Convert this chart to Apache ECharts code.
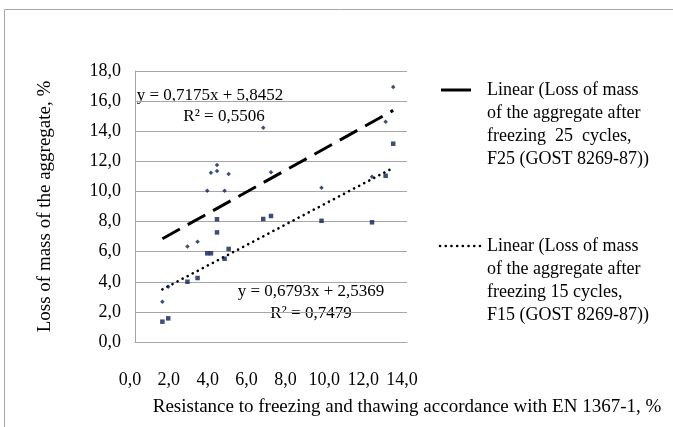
<!DOCTYPE html>
<html><head><meta charset="utf-8">
<script src="https://cdn.jsdelivr.net/npm/echarts@6/dist/echarts.min.js"></script>
<style>html,body{margin:0;padding:0;background:#fff}#c{width:673px;height:427px}</style>
</head><body><div id="c"></div>
<script>
// Data: resistance (EN 1367-1, %) vs loss of mass (%)
const x25 = [1.41, 1.71, 2.70, 3.22, 3.72, 3.91, 4.22, 4.22, 4.61, 4.82, 6.60, 7.00, 9.60, 12.20, 12.90, 13.29];
const y25 = [2.68, 3.67, 6.35, 6.66, 10.05, 11.24, 11.35, 11.75, 10.05, 11.16, 14.23, 11.27, 10.25, 10.98, 14.63, 16.93];
const x15 = [1.41, 1.71, 2.70, 3.22, 3.72, 3.91, 4.22, 4.22, 4.61, 4.82, 6.60, 7.00, 9.60, 12.20, 12.90, 13.29];
const y15 = [1.35, 1.57, 4.00, 4.25, 5.89, 5.89, 8.15, 7.28, 5.53, 6.18, 8.17, 8.37, 8.05, 7.95, 11.04, 13.17];
const trend25 = [0.7175, 5.8452]; // slope, intercept
const trend15 = [0.6793, 2.5369];
const eq25 = ['y = 0,7175x + 5,8452', 'R² = 0,5506'];
const eq15 = ['y = 0,6793x + 2,5369', 'R² = 0,7479'];
const legend25 = 'Linear (Loss of mass\nof the aggregate after\nfreezing  25  cycles,\nF25 (GOST 8269-87))';
const legend15 = 'Linear (Loss of mass\nof the aggregate after\nfreezing 15 cycles,\nF15 (GOST 8269-87))';
const xTicks = [0, 2, 4, 6, 8, 10, 12, 14];
const yTicks = [0, 2, 4, 6, 8, 10, 12, 14, 16, 18];
const xTitle = 'Resistance to freezing and thawing accordance with EN 1367-1, %';
const yTitle = 'Loss of mass of the aggregate, %';

const FONT = 'Liberation Serif';
const fmt = v => v.toFixed(1).replace('.', ',');
const pts = (xs, ys) => xs.map((x, i) => [x, ys[i]]);
const trendLine = (xs, t) => {
  const a = Math.min(...xs), b = Math.max(...xs);
  return [[a, t[0] * a + t[1]], [b, t[0] * b + t[1]]];
};
const navy = '#0a1f5c';
const f = s => s + 'px "' + FONT + '"';

const chart = echarts.init(document.getElementById('c'), null, {renderer: 'canvas'});
chart.setOption({
  animation: false,
  backgroundColor: '#fff',
  grid: {left: 135, right: 266, top: 71, bottom: 85},
  xAxis: {
    type: 'value', min: xTicks[0], max: xTicks[xTicks.length - 1], interval: 2,
    axisLine: {show: true, onZero: false, lineStyle: {color: '#a6a6a6', width: 1}},
    axisTick: {show: false},
    splitLine: {show: false},
    axisLabel: {formatter: fmt, color: '#000', fontFamily: FONT, fontSize: 18, margin: 29, padding: [0, 10, 0, 0], hideOverlap: false},
    name: xTitle, nameLocation: 'middle', nameGap: 56,
    nameTextStyle: {color: '#000', fontFamily: FONT, fontSize: 19, padding: [0, 0, 0, 272]}
  },
  yAxis: {
    type: 'value', min: yTicks[0], max: yTicks[yTicks.length - 1], interval: 2,
    axisLine: {show: true, lineStyle: {color: '#a6a6a6', width: 1}},
    axisTick: {show: false},
    splitLine: {show: true, lineStyle: {color: '#a6a6a6', width: 1}},
    axisLabel: {formatter: fmt, color: '#000', fontFamily: FONT, fontSize: 18, margin: 14},
    name: yTitle, nameLocation: 'middle', nameGap: 80, nameRotate: 90,
    nameTextStyle: {color: '#000', fontFamily: FONT, fontSize: 19}
  },
  series: [
    {name: 'F25', type: 'scatter', data: pts(x25, y25), symbol: 'diamond', symbolSize: 4.5,
      itemStyle: {color: navy}, z: 3},
    {name: 'F15', type: 'scatter', data: pts(x15, y15), symbol: 'rect', symbolSize: 4.5,
      itemStyle: {color: navy}, z: 3},
    {name: 'Linear F25', type: 'line', data: trendLine(x25, trend25), symbol: 'none',
      lineStyle: {color: '#000', width: 3, type: [20, 9]}, z: 2},
    {name: 'Linear F15', type: 'line', data: trendLine(x15, trend15), symbol: 'none',
      lineStyle: {color: '#000', width: 2.6, type: [0.1, 5.6], cap: 'round'}, z: 2}
  ],
  graphic: [
    {type: 'rect', shape: {x: 4.5, y: 9.5, width: 700, height: 500}, style: {fill: null, stroke: '#a6a6a6', lineWidth: 1}, silent: true},
    {type: 'text', x: 210, y: 96, style: {text: eq25[0], font: f(17), fill: '#000', align: 'center', verticalAlign: 'middle'}},
    {type: 'text', x: 224, y: 117, style: {text: eq25[1], font: f(17), fill: '#000', align: 'center', verticalAlign: 'middle'}},
    {type: 'text', x: 311, y: 292, style: {text: eq15[0], font: f(17), fill: '#000', align: 'center', verticalAlign: 'middle'}},
    {type: 'text', x: 311, y: 314, style: {text: eq15[1], font: f(17), fill: '#000', align: 'center', verticalAlign: 'middle'}},
    {type: 'line', shape: {x1: 441, y1: 90, x2: 471, y2: 90}, style: {stroke: '#000', lineWidth: 3}},
    {type: 'text', x: 487, y: 78.5, style: {text: legend25, font: f(18), fill: '#000', lineHeight: 23, verticalAlign: 'top'}},
    {type: 'line', shape: {x1: 440, y1: 246, x2: 484, y2: 246}, style: {stroke: '#000', lineWidth: 2.6, lineDash: [0.1, 5.6], lineCap: 'round'}},
    {type: 'text', x: 487, y: 234.5, style: {text: legend15, font: f(18), fill: '#000', lineHeight: 23, verticalAlign: 'top'}}
  ]
});
</script></body></html>
